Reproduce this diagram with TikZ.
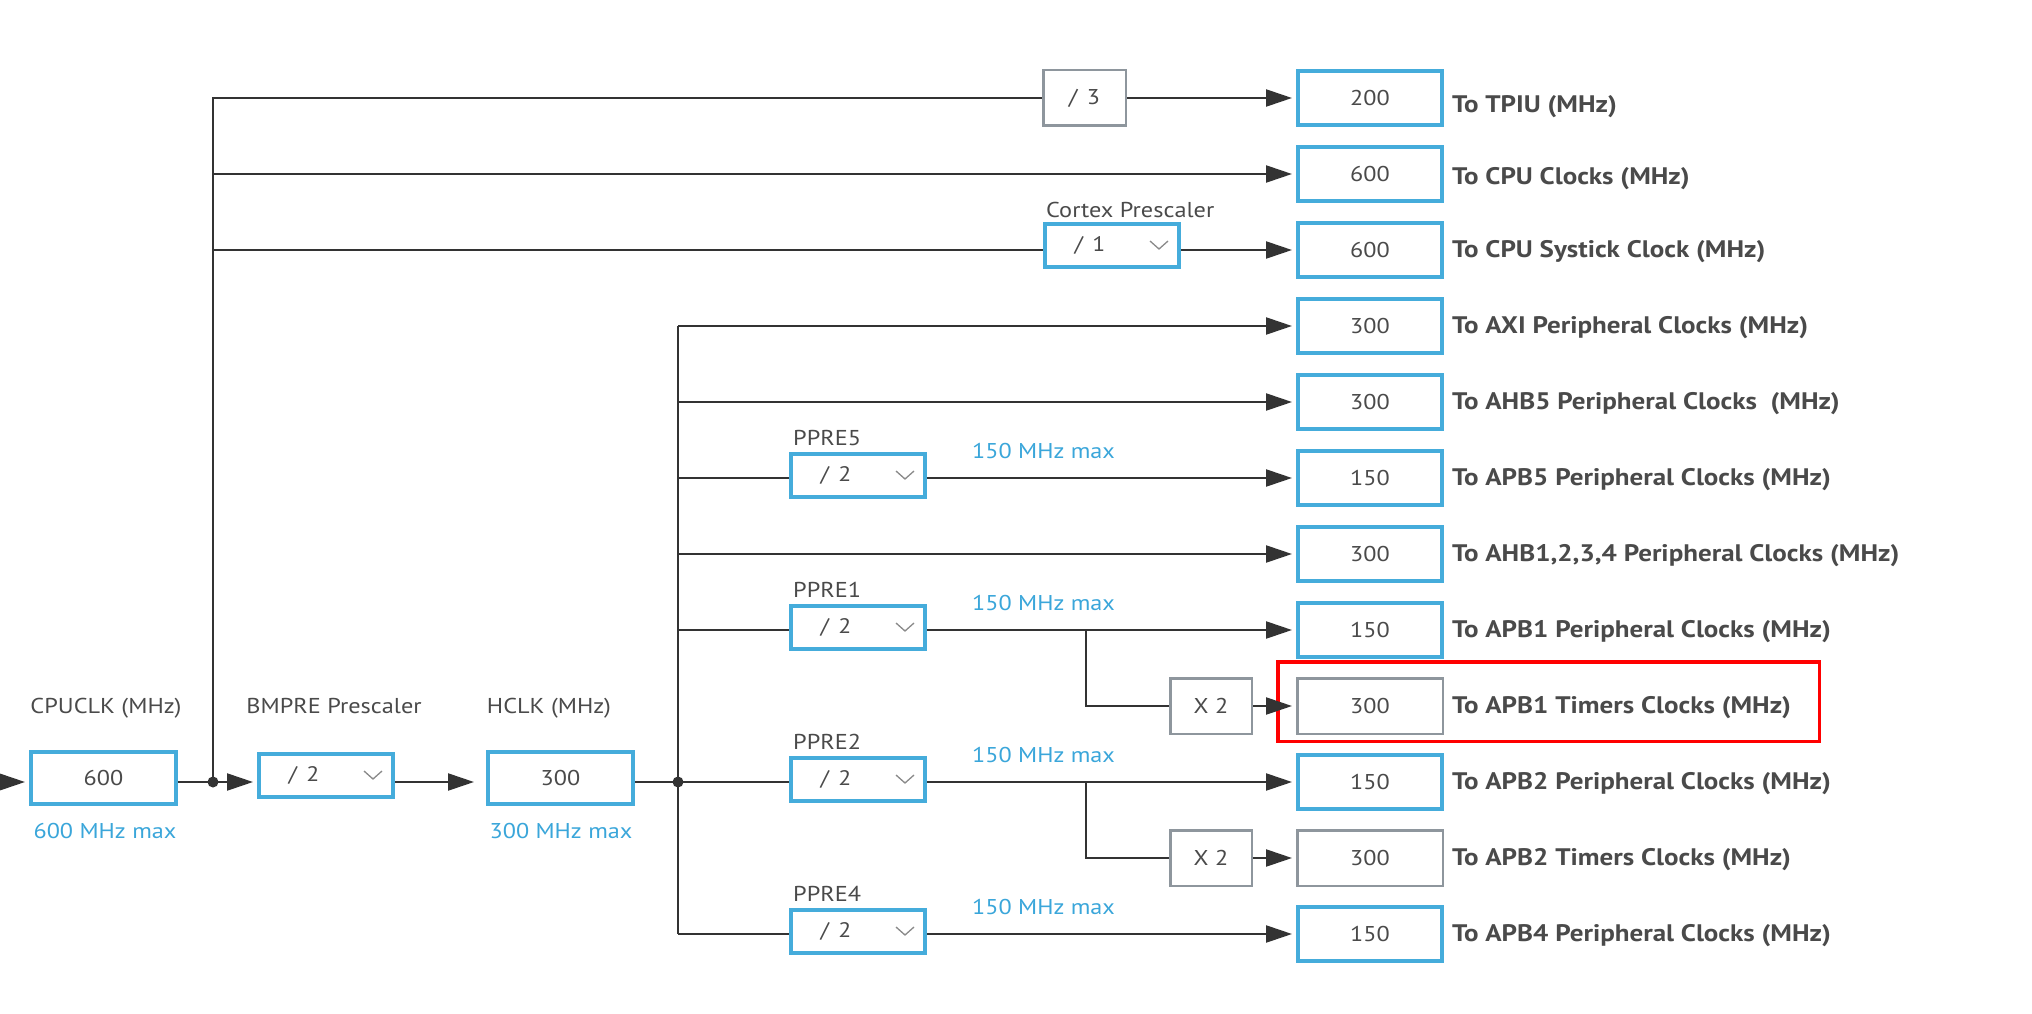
\documentclass[tikz,border=0pt]{standalone}
\usepackage{fontspec}
\setmainfont{PT Sans}[FakeStretch=1.13]
\usetikzlibrary{arrows.meta}
\definecolor{cblue}{HTML}{45ACDB}
\definecolor{cgray}{HTML}{8E969D}
\definecolor{ctext}{HTML}{4A4A4A}
\definecolor{cbluetext}{HTML}{3AA6DA}
\definecolor{cline}{HTML}{333333}
\definecolor{cchev}{HTML}{8A8A8A}
\begin{document}
\begin{tikzpicture}[x=1pt,y=-1pt,
  wire/.style={draw=cline, line width=2.2pt},
  arr/.style={wire, -{Triangle[length=26pt,width=17pt]}, shorten >=4pt},
  numfont/.style={text=ctext, font=\fontsize{21.4}{21.4}\selectfont},
  outbox/.style={draw=cblue, line width=4pt, minimum width=144pt, minimum height=54pt, inner sep=0pt, numfont},
  outgray/.style={draw=cgray, line width=2.5pt, minimum width=145.5pt, minimum height=55.5pt, inner sep=0pt, numfont},
  srcbox/.style={draw=cblue, line width=4pt, minimum width=145pt, minimum height=52pt, inner sep=0pt, numfont},
  ddbox/.style={draw=cblue, line width=4pt, minimum width=134pt, minimum height=43pt, inner sep=0pt},
  ddtxt/.style={inner sep=0pt, text=ctext, font=\fontsize{21}{21}\selectfont},
  mulbox/.style={draw=cgray, line width=2.5pt, minimum width=81.5pt, minimum height=55.5pt, inner sep=0pt, numfont},
  outlbl/.style={anchor=base west, inner sep=0pt, text=ctext, font=\fontsize{23.9}{23.9}\selectfont\bfseries},
  toplbl/.style={anchor=base, inner sep=0pt, text=ctext, font=\fontsize{21.5}{21.5}\selectfont},
  ddlbl/.style={anchor=base west, inner sep=0pt, text=ctext, font=\fontsize{21.5}{21.5}\selectfont},
  maxlbl/.style={inner sep=0pt, text=cbluetext, font=\fontsize{21.4}{21.4}\selectfont},
  chev/.style={draw=cchev, line width=1.3pt},
  dot/.style={circle, fill=cline, inner sep=0pt, minimum size=11pt},
  redbox/.style={draw=red, line width=3.5pt, minimum width=541.5pt, minimum height=79.5pt, inner sep=0pt}
]
\useasboundingbox (0,0) rectangle (2032,1014);
\fill[white] (0,0) rectangle (2032,1014);

% ---------- output boxes ----------
\node[outbox]  (tpiu)   at (1370,98)  {200};
\node[outbox]  (cpuc)   at (1370,174) {600};
\node[outbox]  (systk)  at (1370,250) {600};
\node[outbox]  (axi)    at (1370,326) {300};
\node[outbox]  (ahbv)   at (1370,402) {300};
\node[outbox]  (apbv)   at (1370,478) {150};
\node[outbox]  (ahbi)   at (1370,554) {300};
\node[outbox]  (apbi)   at (1370,630) {150};
\node[outgray] (timi)   at (1370,706) {300};
\node[outbox]  (apbii)  at (1370,782) {150};
\node[outgray] (timii)  at (1370,858) {300};
\node[outbox]  (apbiv)  at (1370,934) {150};

\node[redbox] (hl) at (1548.5,701.5) {};

% ---------- output labels ----------
\node[outlbl] (ltpiu)  at (1452,113) {To TPIU (MHz)};
\node[outlbl] (lcpuc)  at (1452,184) {To CPU Clocks (MHz)};
\node[outlbl] (lsystk) at (1452,257) {To CPU Systick Clock (MHz)};
\node[outlbl] (laxi)   at (1452,333) {To AXI Peripheral Clocks (MHz)};
\node[outlbl] (lahbv)  at (1452,409) {To AHB5 Peripheral Clocks~ (MHz)};
\node[outlbl] (lapbv)  at (1452,485) {To APB5 Peripheral Clocks (MHz)};
\node[outlbl] (lahbi)  at (1452,561) {To AHB1,2,3,4 Peripheral Clocks (MHz)};
\node[outlbl] (lapbi)  at (1452,637) {To APB1 Peripheral Clocks (MHz)};
\node[outlbl] (ltimi)  at (1452,713) {To APB1 Timers Clocks (MHz)};
\node[outlbl] (lapbii) at (1452,789) {To APB2 Peripheral Clocks (MHz)};
\node[outlbl] (ltimii) at (1452,865) {To APB2 Timers Clocks (MHz)};
\node[outlbl] (lapbiv) at (1452,941) {To APB4 Peripheral Clocks (MHz)};

% ---------- source chain ----------
\node[srcbox] (cpu)  at (103.5,778) {600};
\node[srcbox] (hclk) at (560.5,778) {300};
\node[ddbox]  (bmpre) at (326,775) {};
\node[ddtxt]  (bmpret) at ([xshift=47pt]bmpre.west) {/\hspace{3pt} 2};
\draw[chev] ([xshift=-31pt,yshift=4pt]bmpre.east) -- ++(9,8) -- ++(9,-8);

\node[toplbl] (lcpu)   at (106,713) {CPUCLK (MHz)};
\node[toplbl] (lbmpre) at (334,713) {BMPRE Prescaler};
\node[toplbl] (lhclk)  at (549,713) {HCLK (MHz)};
\node[maxlbl, anchor=base] (mcpu)  at (105,838) {600 MHz max};
\node[maxlbl, anchor=base] (mhclk) at (561,838) {300 MHz max};

\coordinate (in) at (-10,782);
\node[dot] (ja) at (213,782) {};
\node[dot] (jb) at (678,782) {};
\coordinate (ta) at (213,98);
\coordinate (tb) at (678,326);
\coordinate (bb) at (678,934);

\draw[arr] (in) -- (cpu.west |- in);
\draw[wire] (cpu.east |- ja) -- (ja.center);
\draw[arr] (ja.center) -- (bmpre.west |- ja);
\draw[arr, shorten >=12pt] (bmpre.east |- ja) -- (hclk.west |- ja);
\draw[wire] (hclk.east |- jb) -- (jb.center);

% ---------- top group ----------
\node[mulbox, minimum width=82.5pt] (div3) at (1084.5,98) {/\hspace{3pt} 3};
\node[ddbox] (cortex) at (1112,245) {};
\node[ddtxt] (cortext) at ([xshift=47pt]cortex.west) {/\hspace{3pt} 1};
\draw[chev] ([xshift=-31pt,yshift=4pt]cortex.east) -- ++(9,8) -- ++(9,-8);
\node[ddlbl] (lcortex) at (1046,217) {Cortex Prescaler};

\draw[wire] (ja.center) -- (ta) -- (div3.west);
\draw[arr] (div3.east) -- (tpiu.west);
\draw[arr] (ja.center |- cpuc) -- (cpuc.west);
\draw[wire] (ja.center |- systk) -- (cortex.west |- systk);
\draw[arr] (cortex.east |- systk) -- (systk.west);

% ---------- bus group ----------
\draw[wire] (tb) -- (bb);
\draw[arr] (tb) -- (axi.west);
\draw[arr] (jb.center |- ahbv) -- (ahbv.west);
\draw[arr] (jb.center |- ahbi) -- (ahbi.west);

% PPRE5
\node[ddbox] (pv) at (858,475) {};
\node[ddtxt] (pvt) at ([xshift=47pt]pv.west) {/\hspace{3pt} 2};
\draw[chev] ([xshift=-31pt,yshift=4pt]pv.east) -- ++(9,8) -- ++(9,-8);
\node[ddlbl] (lpv) at (793,445) {PPRE5};
\node[maxlbl, anchor=base west] (mpv) at (972,458) {150 MHz max};
\draw[wire] (jb.center |- apbv) -- (pv.west |- apbv);
\draw[arr] (pv.east |- apbv) -- (apbv.west);

% PPRE1
\node[ddbox] (pi) at (858,627) {};
\node[ddtxt] (pit) at ([xshift=47pt]pi.west) {/\hspace{3pt} 2};
\draw[chev] ([xshift=-31pt,yshift=4pt]pi.east) -- ++(9,8) -- ++(9,-8);
\node[ddlbl] (lpi) at (793,597) {PPRE1};
\node[maxlbl, anchor=base west] (mpi) at (972,610) {150 MHz max};
\draw[wire] (jb.center |- apbi) -- (pi.west |- apbi);
\draw[arr] (pi.east |- apbi) -- (apbi.west);
\node[mulbox] (xi) at (1211,706) {X 2};
\coordinate (bri) at (1086,630);
\draw[wire] (bri) -- (bri |- xi) -- (xi.west);
\draw[arr] (xi.east) -- (timi.west);

% PPRE2
\node[ddbox] (pii) at (858,779) {};
\node[ddtxt] (piit) at ([xshift=47pt]pii.west) {/\hspace{3pt} 2};
\draw[chev] ([xshift=-31pt,yshift=4pt]pii.east) -- ++(9,8) -- ++(9,-8);
\node[ddlbl] (lpii) at (793,749) {PPRE2};
\node[maxlbl, anchor=base west] (mpii) at (972,762) {150 MHz max};
\draw[wire] (jb.center) -- (pii.west |- apbii);
\draw[arr] (pii.east |- apbii) -- (apbii.west);
\node[mulbox] (xii) at (1211,858) {X 2};
\coordinate (brii) at (1086,782);
\draw[wire] (brii) -- (brii |- xii) -- (xii.west);
\draw[arr] (xii.east) -- (timii.west);

% PPRE4
\node[ddbox] (piv) at (858,931) {};
\node[ddtxt] (pivt) at ([xshift=47pt]piv.west) {/\hspace{3pt} 2};
\draw[chev] ([xshift=-31pt,yshift=4pt]piv.east) -- ++(9,8) -- ++(9,-8);
\node[ddlbl] (lpiv) at (793,901) {PPRE4};
\node[maxlbl, anchor=base west] (mpiv) at (972,914) {150 MHz max};
\draw[wire] (bb) -- (piv.west |- apbiv);
\draw[arr] (piv.east |- apbiv) -- (apbiv.west);
\end{tikzpicture}
\end{document}
